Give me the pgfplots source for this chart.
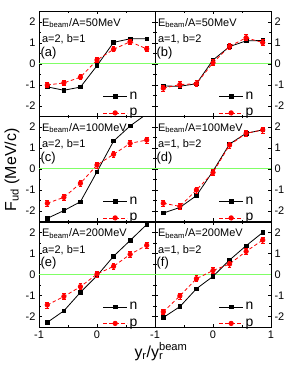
\documentclass[border=0pt]{standalone}
\usepackage{fontspec}
\setmainfont{Liberation Sans}
\usepackage{pgfplots}
\pgfplotsset{compat=1.18}
\definecolor{zgreen}{rgb}{0.5,1,0.4}
\pgfplotsset{
  panel/.style={
    scale only axis, width=116bp, height=105bp,
    xmin=-1, xmax=1, ymin=-2.5, ymax=2.5,
    xtick={-1,0,1}, minor xtick={-0.5,0.5},
    ytick={-2,-1,0,1,2}, minor ytick={-1.5,-0.5,0.5,1.5},
    tick align=inside, major tick length=3bp, minor tick length=1.6bp,
    axis line style={line width=0.7bp}, every tick/.style={line width=0.6bp, black},
    clip marker paths=true,
    /pgf/number format/assume math mode=true,
    tick label style={font=\fontsize{11}{13}\selectfont},
    xticklabels={}, 
    legend style={draw=none, fill=none, at={(0.875,-0.025)}, anchor=south east,
      font=\fontsize{14}{15}\selectfont, row sep=6.5bp, inner sep=1bp,
      nodes={inner ysep=0.5bp}},
    legend cell align=left,
    legend image code/.code={\draw[mark repeat=2,mark phase=2] plot coordinates {(0bp,0bp) (12bp,0bp) (24bp,0bp)};},
  },
  leftp/.style={panel, yticklabel pos=left},
  rightp/.style={panel, yticklabel pos=right},
  nst/.style={black, solid, line width=0.8bp, mark=square*, mark size=1.8bp,
    mark options={solid},
    error bars/.cd, y dir=both, y explicit, error mark=-,
    error bar style={line width=0.6bp, black}, error mark options={line width=0.6bp, mark size=1.5bp, rotate=90}},
  pst/.style={red, line width=0.8bp, dash pattern=on 3.5bp off 2.5bp, mark=*, mark size=2.2bp,
    mark options={solid},
    error bars/.cd, y dir=both, y explicit, error mark=-,
    error bar style={line width=0.7bp, red, solid}, error mark options={line width=0.7bp, mark size=1.8bp, rotate=90, solid}},
}
\newcommand{\ptext}[3]{%
  \node[anchor=west, inner sep=0pt, font=\fontsize{11}{13}\selectfont] at (rel axis cs:0.025,0.89) {E\textsubscript{beam}/A=#1MeV};
  \node[anchor=west, inner sep=0pt, font=\fontsize{11}{13}\selectfont] at (rel axis cs:0.025,0.735) {#2};
  \node[anchor=west, inner sep=0pt, font=\fontsize{13}{15}\selectfont] at (rel axis cs:0.012,0.605) {(#3)};
  \draw[zgreen, line width=1bp] (rel axis cs:0,0.5) -- (rel axis cs:1,0.5);
}
\begin{document}
\begin{tikzpicture}
\useasboundingbox (0bp,0bp) rectangle (285bp,369bp);
% (a)
\begin{axis}[leftp, at={(39bp,357.5bp)}, anchor=north west]
\ptext{50}{a=2, b=1}{a}
\addplot[nst] coordinates {(-0.857,-1.09) +- (0,0.07) (-0.571,-1.25) +- (0,0.07) (-0.286,-1.10) +- (0,0.07) (0,-0.08) +- (0,0.07) (0.286,1.03) +- (0,0.07) (0.571,1.20) +- (0,0.07) (0.857,1.20) +- (0,0.07)};
\addplot[pst] coordinates {(-0.857,-1.00) +- (0,0.12) (-0.571,-0.90) +- (0,0.12) (-0.286,-0.63) +- (0,0.12) (0,0.19) +- (0,0.12) (0.286,0.70) +- (0,0.12) (0.571,1.06) +- (0,0.12) (0.857,0.72) +- (0,0.12)};
\legend{n,p}
\end{axis}
% (b)
\begin{axis}[rightp, at={(155bp,357.5bp)}, anchor=north west]
\ptext{50}{a=1, b=2}{b}
\addplot[nst] coordinates {(-0.857,-1.05) +- (0,0.07) (-0.571,-1.06) +- (0,0.07) (-0.286,-0.94) +- (0,0.07) (0,0.19) +- (0,0.07) (0.286,0.83) +- (0,0.07) (0.571,1.10) +- (0,0.07) (0.857,1.12) +- (0,0.07)};
\addplot[pst] coordinates {(-0.857,-1.15) +- (0,0.14) (-0.571,-0.98) +- (0,0.14) (-0.286,-0.94) +- (0,0.14) (0,0.06) +- (0,0.14) (0.286,0.84) +- (0,0.14) (0.571,1.25) +- (0,0.14) (0.857,1.02) +- (0,0.14)};
\legend{n,p}
\end{axis}
% (c)
\begin{axis}[leftp, at={(39bp,252.5bp)}, anchor=north west]
\ptext{100}{a=2, b=1}{c}
\addplot[nst] coordinates {(-0.857,-2.35) +- (0,0.07) (-0.571,-1.98) +- (0,0.07) (-0.286,-1.56) +- (0,0.07) (0,-0.13) +- (0,0.07) (0.286,1.33) +- (0,0.07) (0.571,2.05) +- (0,0.07) (0.857,2.62) +- (0,0.07)};
\addplot[pst] coordinates {(-0.857,-1.63) +- (0,0.14) (-0.571,-1.35) +- (0,0.14) (-0.286,-0.68) +- (0,0.14) (0,0.19) +- (0,0.14) (0.286,0.70) +- (0,0.14) (0.571,1.22) +- (0,0.14) (0.857,1.38) +- (0,0.14)};
\legend{n,p}
\end{axis}
% (d)
\begin{axis}[rightp, at={(155bp,252.5bp)}, anchor=north west]
\ptext{100}{a=1, b=2}{d}
\addplot[nst] coordinates {(-0.857,-2.10) +- (0,0.07) (-0.571,-1.83) +- (0,0.07) (-0.286,-1.27) +- (0,0.07) (0,-0.10) +- (0,0.07) (0.286,1.19) +- (0,0.07) (0.571,1.70) +- (0,0.07) (0.857,1.86) +- (0,0.07)};
\addplot[pst] coordinates {(-0.857,-1.63) +- (0,0.14) (-0.571,-1.78) +- (0,0.14) (-0.286,-1.00) +- (0,0.14) (0,-0.17) +- (0,0.14) (0.286,1.14) +- (0,0.14) (0.571,1.70) +- (0,0.14) (0.857,1.86) +- (0,0.14)};
\legend{n,p}
\end{axis}
% (e)
\begin{axis}[leftp, at={(39bp,147bp)}, anchor=north west, xticklabels={-1,0,}]
\ptext{200}{a=2, b=1}{e}
\addplot[nst] coordinates {(-0.857,-2.28) +- (0,0.07) (-0.571,-1.73) +- (0,0.07) (-0.286,-0.85) +- (0,0.07) (0,-0.06) +- (0,0.07) (0.286,0.87) +- (0,0.07) (0.571,1.62) +- (0,0.07) (0.857,2.38) +- (0,0.07)};
\addplot[pst] coordinates {(-0.857,-1.45) +- (0,0.14) (-0.571,-1.05) +- (0,0.14) (-0.286,-0.58) +- (0,0.14) (0,0.02) +- (0,0.14) (0.286,0.39) +- (0,0.14) (0.571,0.96) +- (0,0.14) (0.857,1.39) +- (0,0.14)};
\legend{n,p}
\end{axis}
% (f)
\begin{axis}[rightp, at={(155bp,147bp)}, anchor=north west, xticklabels={-1,0,1}]
\ptext{200}{a=1, b=2}{f}
\addplot[nst] coordinates {(-0.857,-2.05) +- (0,0.07) (-0.571,-1.53) +- (0,0.07) (-0.286,-0.68) +- (0,0.07) (0,-0.09) +- (0,0.07) (0.286,0.69) +- (0,0.07) (0.571,1.37) +- (0,0.07) (0.857,2.00) +- (0,0.07)};
\addplot[pst] coordinates {(-0.857,-1.78) +- (0,0.14) (-0.571,-1.02) +- (0,0.14) (-0.286,-0.20) +- (0,0.14) (0,0.19) +- (0,0.14) (0.286,0.50) +- (0,0.14) (0.571,1.10) +- (0,0.14) (0.857,1.64) +- (0,0.14)};
\legend{n,p}
\end{axis}
\node[rotate=90, font=\fontsize{16}{18}\selectfont] at (12bp,199bp) {F\textsubscript{ud} (MeV/c)};
\node[anchor=base, font=\fontsize{16}{18}\selectfont] at (161bp,12bp) {y\textsubscript{r}/y\rlap{\textsubscript{r}}\textsuperscript{beam}};
\end{tikzpicture}
\end{document}
